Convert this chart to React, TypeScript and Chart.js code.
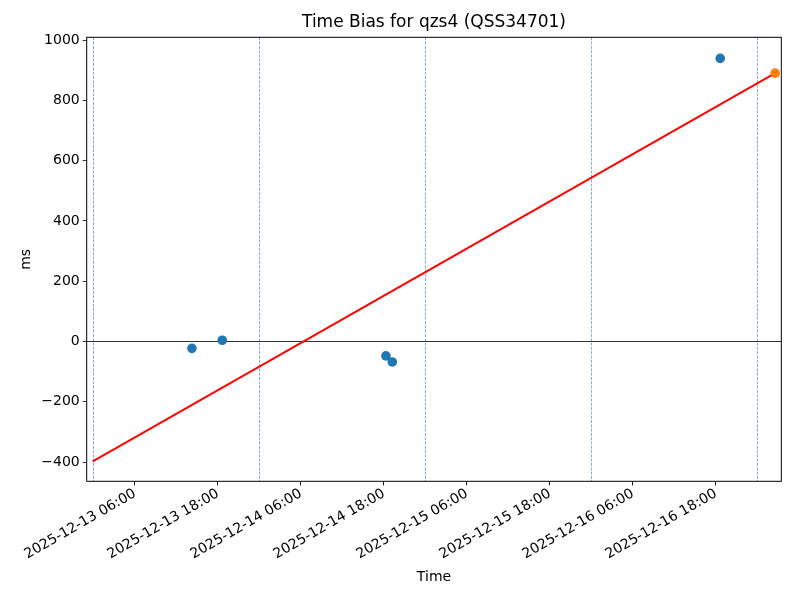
import React, { useEffect, useRef } from "react";
import { Chart, registerables } from "chart.js";

Chart.register(...registerables);

const ORIGIN = "2025-12-13T00:00:00Z";
const biasTimes = ["2025-12-13T14:14:00Z", "2025-12-13T18:37:00Z", "2025-12-14T18:17:00Z", "2025-12-14T19:12:00Z", "2025-12-16T18:37:00Z"];
const biasValues = [-23, 4, -48, -68, 939];
const predTimes = ["2025-12-17T02:34:00Z"];
const predValues = [890];
const fitTimes = ["2025-12-12T23:53:00Z", "2025-12-17T02:34:00Z"];
const fitValues = [-398, 890];
const xRange = ["2025-12-12T23:01:00Z", "2025-12-17T03:27:00Z"];
const yRange = [-464, 1009];
const yTicks = [-400, -200, 0, 200, 400, 600, 800, 1000];
const xTickTimes = [
  "2025-12-13T06:00:00Z", "2025-12-13T18:00:00Z", "2025-12-14T06:00:00Z", "2025-12-14T18:00:00Z",
  "2025-12-15T06:00:00Z", "2025-12-15T18:00:00Z", "2025-12-16T06:00:00Z", "2025-12-16T18:00:00Z",
];
const midnightTimes = ["2025-12-13T00:00:00Z", "2025-12-14T00:00:00Z", "2025-12-15T00:00:00Z", "2025-12-16T00:00:00Z", "2025-12-17T00:00:00Z"];

const toH = (s: string) => (Date.parse(s) - Date.parse(ORIGIN)) / 3600000;
const pad2 = (n: number) => (n < 10 ? "0" + n : "" + n);
const fmt = (h: number) => {
  const d = new Date(Date.parse(ORIGIN) + Math.round(h * 3600000));
  return `${d.getUTCFullYear()}-${pad2(d.getUTCMonth() + 1)}-${pad2(d.getUTCDate())} ${pad2(d.getUTCHours())}:${pad2(d.getUTCMinutes())}`;
};

const FONT = "DejaVu Sans";

const framePlugin = {
  id: "frame",
  beforeDatasetsDraw(chart: any) {
    const { ctx, chartArea, scales } = chart;
    ctx.save();
    ctx.strokeStyle = "rgba(70,130,180,0.85)";
    ctx.lineWidth = 0.8;
    ctx.setLineDash([3, 1.3]);
    for (const t of midnightTimes) {
      const x = scales.x.getPixelForValue(toH(t));
      ctx.beginPath();
      ctx.moveTo(x, chartArea.top);
      ctx.lineTo(x, chartArea.bottom);
      ctx.stroke();
    }
    ctx.restore();
  },
  afterDraw(chart: any) {
    const { ctx, chartArea } = chart;
    ctx.save();
    ctx.strokeStyle = "#000";
    ctx.lineWidth = 1;
    ctx.strokeRect(chartArea.left, chartArea.top, chartArea.right - chartArea.left, chartArea.bottom - chartArea.top);
    ctx.restore();
  },
};

export default function App() {
  const ref = useRef<HTMLCanvasElement>(null);
  useEffect(() => {
    if (!ref.current) return;
    const chart = new Chart(ref.current, {
      type: "scatter",
      data: {
        datasets: [
          {
            type: "line",
            data: fitTimes.map((t, i) => ({ x: toH(t), y: fitValues[i] })),
            borderColor: "#ff0000",
            borderWidth: 2,
            pointRadius: 0,
            fill: false,
            order: 3,
          } as any,
          {
            data: biasTimes.map((t, i) => ({ x: toH(t), y: biasValues[i] })),
            backgroundColor: "#1f77b4",
            borderColor: "#1f77b4",
            pointRadius: 4.8,
            borderWidth: 0,
            order: 2,
          },
          {
            data: predTimes.map((t, i) => ({ x: toH(t), y: predValues[i] })),
            backgroundColor: "#ff7f0e",
            borderColor: "#ff7f0e",
            pointRadius: 4.8,
            borderWidth: 0,
            order: 1,
          },
        ],
      },
      options: {
        animation: false,
        responsive: false,
        layout: { padding: { left: 0, right: 18.7, top: 0, bottom: 0 } },
        plugins: {
          legend: { display: false },
          tooltip: { enabled: false },
          title: {
            display: true,
            text: "Time Bias for qzs4 (QSS34701)",
            color: "#000",
            fullSize: false,
            font: { family: FONT, size: 17, weight: "normal" as any, lineHeight: 1.2 },
            padding: { top: 12.5, bottom: 4.4 },
          },
        },
        scales: {
          x: {
            type: "linear",
            min: toH(xRange[0]),
            max: toH(xRange[1]),
            afterBuildTicks: (s: any) => {
              s.ticks = xTickTimes.map((t) => ({ value: toH(t) }));
            },
            afterFit: (s: any) => {
              s.height = 118.7;
            },
            ticks: {
              autoSkip: false,
              minRotation: 30,
              maxRotation: 30,
              padding: 0,
              color: "#000",
              font: { family: FONT, size: 14 },
              callback: (v: any) => fmt(Number(v)),
            },
            grid: { color: "transparent", tickColor: "#000", tickLength: 4, drawTicks: true },
            border: { display: false },
            title: {
              display: true,
              text: "Time",
              color: "#000",
              font: { family: FONT, size: 14 },
              padding: { top: 0, bottom: 14.6 },
            },
          },
          y: {
            type: "linear",
            min: yRange[0],
            max: yRange[1],
            afterBuildTicks: (s: any) => {
              s.ticks = yTicks.map((v) => ({ value: v }));
            },
            afterFit: (s: any) => {
              s.width = 86.7;
            },
            ticks: {
              padding: 3,
              color: "#000",
              font: { family: FONT, size: 14 },
              callback: (v: any) => (Number(v) < 0 ? "\u2212" + Math.abs(Number(v)) : String(v)),
            },
            grid: {
              color: (c: any) => (c.tick && c.tick.value === 0 ? "#000" : "transparent"),
              lineWidth: 0.8,
              tickColor: "#000",
              tickLength: 4,
            },
            border: { display: false },
            title: {
              display: true,
              text: "ms",
              color: "#000",
              font: { family: FONT, size: 14 },
              padding: { top: 17.6, bottom: 0 },
            },
          },
        },
      },
      plugins: [framePlugin],
    });
    return () => chart.destroy();
  }, []);
  return (
    <div style={{ position: "fixed", left: 0, top: 0, width: 800, height: 600, background: "#fff" }}>
      <canvas ref={ref} width={800} height={600} style={{ width: 800, height: 600, display: "block" }} />
    </div>
  );
}
